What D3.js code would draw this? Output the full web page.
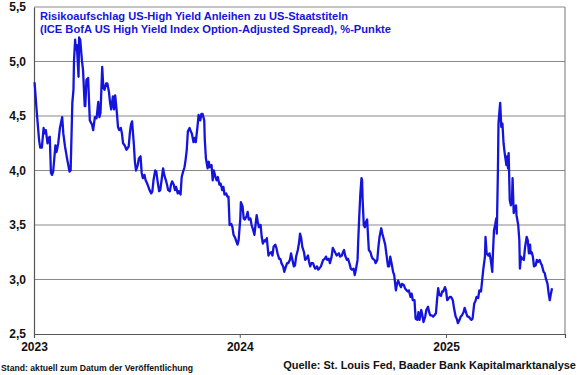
<!DOCTYPE html>
<html><head><meta charset="utf-8">
<script src="https://cdn.jsdelivr.net/npm/d3@7"></script>
<style>html,body{margin:0;padding:0;background:#fff;}svg{display:block;font-family:Arial,"Liberation Sans",sans-serif;}</style>
</head><body><svg id="c" width="580" height="375"></svg>
<script>
const titleLines = ["Risikoaufschlag US-High Yield Anleihen zu US-Staatstiteln","(ICE BofA US High Yield Index Option-Adjusted Spread), %-Punkte"];
const footLeft = "Stand: aktuell zum Datum der Veröffentlichung";
const footRight = "Quelle: St. Louis Fed, Baader Bank Kapitalmarktanalyse";
const yTicks = [2.5,3.0,3.5,4.0,4.5,5.0,5.5];
const xTickYears = ["2023","2024","2025"];
const dates2023 = ["2023-01-02","2023-01-06","2023-01-10","2023-01-12","2023-01-15","2023-01-18","2023-01-20","2023-01-22","2023-01-25","2023-01-27","2023-01-29","2023-01-31","2023-02-02","2023-02-04","2023-02-08","2023-02-10","2023-02-13","2023-02-16","2023-02-20","2023-02-22","2023-02-25","2023-03-01","2023-03-05","2023-03-07","2023-03-10","2023-03-12","2023-03-13","2023-03-15","2023-03-16","2023-03-18","2023-03-21","2023-03-22","2023-03-24","2023-03-27","2023-03-29","2023-04-01","2023-04-02","2023-04-04","2023-04-07","2023-04-10","2023-04-14","2023-04-16","2023-04-19","2023-04-22","2023-04-25","2023-04-27","2023-04-29","2023-05-02","2023-05-04","2023-05-06","2023-05-09","2023-05-11","2023-05-14","2023-05-16","2023-05-18","2023-05-21","2023-05-23","2023-05-25","2023-05-28","2023-05-30","2023-06-01","2023-06-04","2023-06-06","2023-06-08","2023-06-11","2023-06-14","2023-06-18","2023-06-20","2023-06-22","2023-06-24","2023-06-27","2023-06-29","2023-07-01","2023-07-04","2023-07-06","2023-07-09","2023-07-11","2023-07-13","2023-07-16","2023-07-18","2023-07-20","2023-07-23","2023-07-25","2023-07-28","2023-07-30","2023-08-01","2023-08-04","2023-08-06","2023-08-08","2023-08-11","2023-08-13","2023-08-16","2023-08-18","2023-08-20","2023-08-23","2023-08-25","2023-08-27","2023-08-30","2023-09-01","2023-09-03","2023-09-06","2023-09-08","2023-09-10","2023-09-13","2023-09-15","2023-09-18","2023-09-20","2023-09-22","2023-09-25","2023-09-27","2023-09-29","2023-10-01","2023-10-04","2023-10-06","2023-10-08","2023-10-11","2023-10-13","2023-10-15","2023-10-18","2023-10-20","2023-10-23","2023-10-25","2023-10-27","2023-10-30","2023-10-31","2023-11-02","2023-11-05","2023-11-07","2023-11-09","2023-11-12","2023-11-14","2023-11-16","2023-11-19","2023-11-21","2023-11-23","2023-11-26","2023-11-28","2023-12-01","2023-12-03","2023-12-05","2023-12-08","2023-12-10","2023-12-12","2023-12-14","2023-12-17","2023-12-19","2023-12-21","2023-12-24","2023-12-28","2023-12-30"];
const values2023 = [4.81,4.53,4.28,4.21,4.21,4.39,4.34,4.37,4.25,4.30,4.31,3.98,3.96,3.99,4.23,4.17,4.25,4.39,4.49,4.34,4.22,4.10,3.99,4.00,4.62,4.74,5.01,5.20,5.11,5.15,4.86,5.22,5.20,5.01,4.92,4.59,4.59,4.83,4.85,4.46,4.42,4.37,4.49,4.48,4.63,4.49,4.53,4.95,4.76,4.74,4.80,4.80,4.72,4.62,4.56,4.68,4.56,4.69,4.53,4.40,4.37,4.39,4.34,4.25,4.23,4.19,4.22,4.34,4.42,4.45,4.25,4.08,4.00,4.05,4.11,4.13,3.98,3.93,3.96,3.91,3.89,3.85,3.82,3.79,3.81,3.91,4.00,3.99,3.91,3.81,3.82,3.94,4.02,3.96,3.91,3.87,3.82,3.81,3.87,3.90,3.87,3.82,3.85,3.79,3.81,3.78,3.94,3.98,4.03,4.10,4.19,4.36,4.39,4.36,4.34,4.26,4.30,4.26,4.40,4.51,4.46,4.52,4.52,4.46,4.28,4.11,4.02,4.08,4.03,4.05,3.91,4.00,3.94,3.91,3.94,3.87,3.88,3.82,3.85,3.78,3.79,3.76,3.76,3.50,3.51,3.48,3.41,3.38,3.32,3.36];
const dates2024 = ["2024-01-02","2024-01-03","2024-01-06","2024-01-08","2024-01-10","2024-01-13","2024-01-15","2024-01-17","2024-01-20","2024-01-22","2024-01-25","2024-01-27","2024-01-29","2024-01-31","2024-02-02","2024-02-04","2024-02-07","2024-02-09","2024-02-11","2024-02-14","2024-02-16","2024-02-18","2024-02-21","2024-02-23","2024-02-26","2024-02-28","2024-03-01","2024-03-04","2024-03-06","2024-03-08","2024-03-11","2024-03-13","2024-03-15","2024-03-18","2024-03-20","2024-03-23","2024-03-25","2024-03-27","2024-03-30","2024-04-01","2024-04-03","2024-04-06","2024-04-08","2024-04-10","2024-04-13","2024-04-15","2024-04-17","2024-04-19","2024-04-21","2024-04-24","2024-04-26","2024-04-28","2024-05-01","2024-05-03","2024-05-05","2024-05-07","2024-05-10","2024-05-12","2024-05-14","2024-05-17","2024-05-19","2024-05-21","2024-05-24","2024-05-26","2024-05-28","2024-05-31","2024-06-02","2024-06-04","2024-06-07","2024-06-09","2024-06-12","2024-06-14","2024-06-16","2024-06-19","2024-06-21","2024-06-25","2024-06-27","2024-06-30","2024-07-02","2024-07-04","2024-07-06","2024-07-09","2024-07-11","2024-07-13","2024-07-16","2024-07-18","2024-07-21","2024-07-23","2024-07-25","2024-07-28","2024-07-29","2024-07-31","2024-08-02","2024-08-04","2024-08-05","2024-08-06","2024-08-08","2024-08-10","2024-08-12","2024-08-14","2024-08-16","2024-08-17","2024-08-20","2024-08-22","2024-08-24","2024-08-27","2024-08-29","2024-09-01","2024-09-03","2024-09-05","2024-09-08","2024-09-10","2024-09-12","2024-09-15","2024-09-17","2024-09-20","2024-09-22","2024-09-24","2024-09-27","2024-09-29","2024-10-01","2024-10-04","2024-10-06","2024-10-08","2024-10-11","2024-10-13","2024-10-15","2024-10-18","2024-10-20","2024-10-23","2024-10-25","2024-10-27","2024-10-30","2024-11-01","2024-11-03","2024-11-06","2024-11-08","2024-11-11","2024-11-13","2024-11-15","2024-11-18","2024-11-20","2024-11-22","2024-11-25","2024-11-27","2024-11-30","2024-12-02","2024-12-04","2024-12-07","2024-12-09","2024-12-11","2024-12-14","2024-12-16","2024-12-18","2024-12-20","2024-12-23","2024-12-25","2024-12-27","2024-12-30"];
const values2024 = [3.56,3.71,3.67,3.56,3.55,3.58,3.62,3.55,3.56,3.50,3.45,3.41,3.50,3.59,3.53,3.48,3.50,3.39,3.33,3.36,3.35,3.38,3.22,3.24,3.25,3.22,3.30,3.32,3.29,3.24,3.19,3.19,3.15,3.12,3.07,3.12,3.15,3.15,3.18,3.24,3.19,3.12,3.13,3.21,3.27,3.33,3.42,3.38,3.30,3.25,3.18,3.19,3.22,3.16,3.12,3.15,3.15,3.12,3.10,3.12,3.09,3.10,3.12,3.15,3.18,3.19,3.21,3.18,3.19,3.15,3.21,3.29,3.27,3.24,3.22,3.24,3.21,3.22,3.25,3.27,3.22,3.18,3.19,3.16,3.10,3.09,3.10,3.04,3.09,3.18,3.33,3.58,3.79,3.93,3.91,3.73,3.50,3.48,3.53,3.55,3.36,3.27,3.25,3.21,3.19,3.18,3.15,3.18,3.30,3.39,3.47,3.42,3.38,3.32,3.24,3.12,3.12,3.21,3.13,3.07,3.04,2.90,2.96,2.99,2.95,2.93,2.96,2.95,2.92,2.90,2.89,2.90,2.84,2.87,2.81,2.81,2.64,2.63,2.70,2.63,2.72,2.67,2.61,2.66,2.72,2.75,2.70,2.67,2.67,2.66,2.67,2.69,2.81,2.92,2.86,2.85,2.89,2.89,2.93];
const dates2025 = ["2025-01-01","2025-01-03","2025-01-06","2025-01-08","2025-01-10","2025-01-13","2025-01-15","2025-01-18","2025-01-20","2025-01-22","2025-01-25","2025-01-27","2025-01-29","2025-02-01","2025-02-03","2025-02-06","2025-02-08","2025-02-10","2025-02-13","2025-02-15","2025-02-17","2025-02-20","2025-02-22","2025-02-24","2025-02-27","2025-03-01","2025-03-04","2025-03-06","2025-03-08","2025-03-11","2025-03-12","2025-03-14","2025-03-17","2025-03-19","2025-03-21","2025-03-24","2025-03-25","2025-03-27","2025-03-29","2025-03-31","2025-04-01","2025-04-03","2025-04-04","2025-04-06","2025-04-07","2025-04-09","2025-04-11","2025-04-13","2025-04-15","2025-04-18","2025-04-19","2025-04-21","2025-04-22","2025-04-24","2025-04-26","2025-04-28","2025-04-29","2025-05-01","2025-05-03","2025-05-05","2025-05-06","2025-05-09","2025-05-11","2025-05-12","2025-05-14","2025-05-16","2025-05-19","2025-05-21","2025-05-24","2025-05-26","2025-05-28","2025-05-30","2025-05-31","2025-06-02","2025-06-04","2025-06-06","2025-06-09","2025-06-11","2025-06-13","2025-06-16","2025-06-18","2025-06-20","2025-06-23","2025-06-25","2025-06-27","2025-06-30","2025-07-02","2025-07-04","2025-07-06","2025-07-08"];
const values2025 = [2.90,2.81,2.83,2.84,2.84,2.81,2.74,2.66,2.64,2.60,2.63,2.66,2.67,2.70,2.74,2.69,2.66,2.66,2.64,2.63,2.64,2.78,2.80,2.84,2.83,2.90,2.89,2.99,3.09,3.21,3.39,3.24,3.22,3.24,3.19,3.07,3.22,3.45,3.50,3.56,3.42,4.00,4.43,4.56,4.62,4.40,4.43,4.25,4.16,4.05,4.13,4.02,4.16,3.73,3.68,3.73,3.93,3.61,3.65,3.68,3.59,3.50,3.36,3.10,3.21,3.19,3.18,3.29,3.39,3.36,3.24,3.32,3.24,3.25,3.21,3.12,3.13,3.18,3.16,3.18,3.15,3.13,3.07,3.06,3.01,2.96,2.87,2.81,2.87,2.92];

const parse = d3.timeParse("%Y-%m-%d");
const dates = dates2023.concat(dates2024, dates2025);
const values = values2023.concat(values2024, values2025);
const data = dates.map((d,i)=>({date:parse(d), value:values[i]}));

const svg = d3.select("#c");
const L = 34, R = 565, T = 7, B = 334;
const x = d3.scaleTime().domain([parse("2023-01-01"), parse("2025-07-31")]).range([L, R]);
const y = d3.scaleLinear().domain([2.5, 5.5]).range([B, T]);
const blue = "#1414dc";
const fmt = v => d3.format(".1f")(v).replace(".", ",");

// gridlines
svg.append("g").selectAll("line").data(yTicks.filter(v=>v>2.5)).join("line")
  .attr("x1", L).attr("x2", R).attr("y1", d=>y(d)).attr("y2", d=>y(d))
  .attr("stroke", "#8a8a8a").attr("stroke-width", 1.2);
// right border
svg.append("line").attr("x1", R).attr("x2", R).attr("y1", T).attr("y2", B).attr("stroke", "#8a8a8a").attr("stroke-width", 1.2);

// y axis
const yAxis = svg.append("g").attr("transform", `translate(${L},0)`)
  .call(d3.axisLeft(y).tickValues(yTicks).tickFormat(fmt).tickSize(0).tickPadding(8));
yAxis.select(".domain").attr("stroke", "#555").attr("stroke-width", 1.2);
yAxis.selectAll("text").attr("font-size", 12).attr("font-weight", "bold").attr("fill", "#111")
  .attr("font-family", "Arial, 'Liberation Sans', sans-serif");

// x axis
const xAxis = svg.append("g").attr("transform", `translate(0,${B})`)
  .call(d3.axisBottom(x).tickValues(xTickYears.map(s=>parse(s+"-01-01"))).tickFormat(d3.timeFormat("%Y")).tickSize(4).tickPadding(4));
xAxis.select(".domain").attr("stroke", "#555").attr("stroke-width", 1.2);
xAxis.selectAll(".tick line").attr("stroke", "#555");
xAxis.selectAll("text").attr("font-size", 12).attr("font-weight", "bold").attr("fill", "#111")
  .attr("font-family", "Arial, 'Liberation Sans', sans-serif");

// line
svg.append("path").datum(data)
  .attr("fill", "none").attr("stroke", blue).attr("stroke-width", 2.3).attr("stroke-linejoin", "round")
  .attr("d", d3.line().x(d=>x(d.date)).y(d=>y(d.value)));

// title
svg.append("text").attr("x", 40).attr("y", 20).attr("fill", blue).attr("font-size", 11).attr("font-weight", "bold")
  .attr("textLength", 308).attr("lengthAdjust", "spacingAndGlyphs").text(titleLines[0]);
svg.append("text").attr("x", 40).attr("y", 33).attr("fill", blue).attr("font-size", 11).attr("font-weight", "bold")
  .attr("textLength", 351).attr("lengthAdjust", "spacingAndGlyphs").text(titleLines[1]);

// footers
svg.append("text").attr("x", 1).attr("y", 371).attr("fill", "#111").attr("font-size", 8.5).attr("font-weight", "bold")
  .attr("textLength", 192).attr("lengthAdjust", "spacingAndGlyphs").text(footLeft);
svg.append("text").attr("x", 576).attr("y", 369).attr("text-anchor", "end").attr("fill", "#111").attr("font-size", 11).attr("font-weight", "bold")
  .text(footRight);
</script></body></html>
